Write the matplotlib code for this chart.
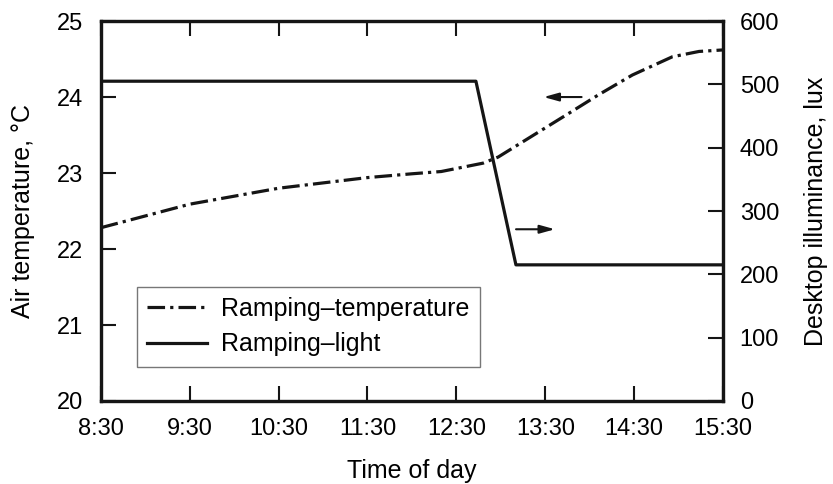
import matplotlib.pyplot as plt

plt.rcParams['font.family'] = ['Liberation Sans', 'DejaVu Sans']

# time of day in decimal hours
temp_hours = [8.5, 9.5, 10.5, 11.5, 12.0, 12.33, 12.8, 12.97, 13.37, 13.73, 14.1, 14.48, 14.93, 15.23, 15.5]
temp_vals = [22.28, 22.59, 22.8, 22.94, 22.99, 23.02, 23.13, 23.21, 23.5, 23.76, 24.03, 24.29, 24.53, 24.6, 24.62]

light_hours = [8.5, 12.72, 13.17, 15.5]
light_vals = [505, 505, 215, 215]

tick_hours = [8.5, 9.5, 10.5, 11.5, 12.5, 13.5, 14.5, 15.5]
tick_labels = ["8:30", "9:30", "10:30", "11:30", "12:30", "13:30", "14:30", "15:30"]

fs = 17
lab_fs = 18
lw = 2.3
ink = "#151515"

fig = plt.figure(figsize=(8.33, 4.84), dpi=100)
ax = fig.add_axes([0.121, 0.1715, 0.747, 0.785])
ax2 = ax.twinx()

l1, = ax.plot(temp_hours, temp_vals, color=ink, lw=lw, dashes=(5.5, 1.6, 1.0, 1.6),
              label="Ramping\u2013temperature")
l2, = ax2.plot(light_hours, light_vals, color=ink, lw=lw, label="Ramping\u2013light")

ax.set_xlim(8.5, 15.5)
ax.set_ylim(20, 25)
ax2.set_ylim(0, 600)

ax.set_xticks(tick_hours)
ax.set_xticklabels(tick_labels)
ax.set_yticks([20, 21, 22, 23, 24, 25])
ax2.set_yticks([0, 100, 200, 300, 400, 500, 600])

ax.tick_params(axis="x", direction="in", top=True, length=11, width=1.5, labelsize=fs, pad=12, color=ink)
ax.tick_params(axis="y", direction="in", length=11, width=1.5, labelsize=fs, pad=12.5, color=ink)
ax2.tick_params(axis="y", direction="in", length=11, width=1.5, labelsize=fs, pad=12, color=ink)

for a in (ax, ax2):
    for s in a.spines.values():
        s.set_linewidth(lw)
        s.set_color(ink)

ax.set_xlabel("Time of day", fontsize=lab_fs, labelpad=14)
ax.set_ylabel("Air temperature, \u00b0C", fontsize=lab_fs, labelpad=16)
ax2.set_ylabel("Desktop illuminance, lux", fontsize=lab_fs, labelpad=18)

# arrows pointing to the axis of each curve
ax.annotate("", xy=(13.45, 24.0), xytext=(13.94, 24.0),
            arrowprops=dict(arrowstyle="-|>,head_length=0.9,head_width=0.25", color=ink, lw=1.5))
ax.annotate("", xy=(13.64, 22.26), xytext=(13.14, 22.26),
            arrowprops=dict(arrowstyle="-|>,head_length=0.9,head_width=0.25", color=ink, lw=1.5))

leg = ax.legend(handles=[l1, l2], loc="lower left", bbox_to_anchor=(0.058, 0.09),
                fontsize=18, frameon=True, fancybox=False, edgecolor="#555555",
                handlelength=2.4, handletextpad=0.55, borderpad=0.42, labelspacing=0.45,
                borderaxespad=0)
leg.get_frame().set_linewidth(1.0)

fig.savefig("out.png", dpi=100)
